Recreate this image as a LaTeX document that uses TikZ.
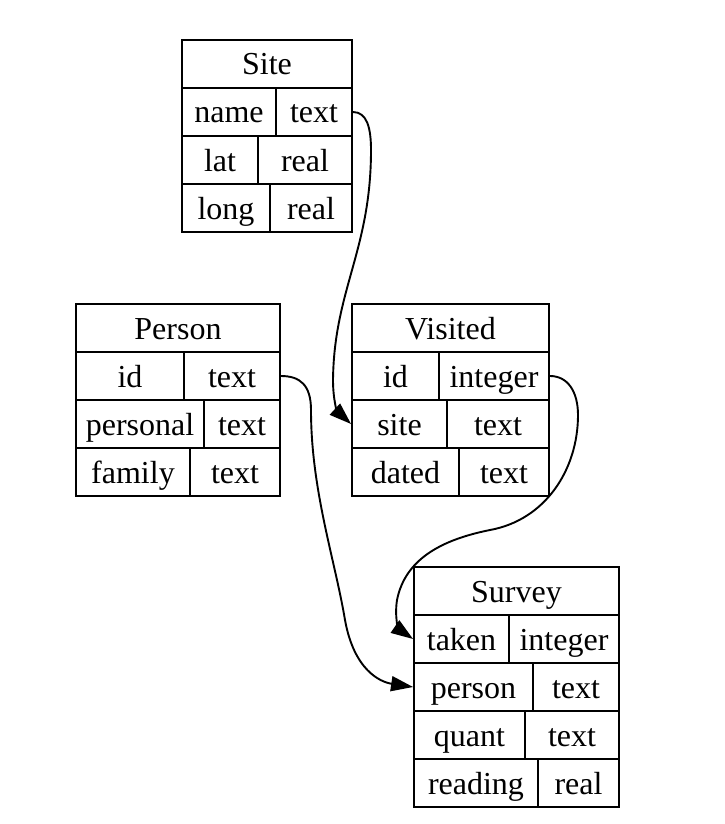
\documentclass[tikz,border=0pt]{standalone}
\usepackage{fontspec}
\setmainfont{Liberation Serif}
\usetikzlibrary{arrows.meta}

\begin{document}
\begin{tikzpicture}[x=0.5pt, y=-0.5pt,
		cell/.style={draw, line width=0.95pt, inner sep=0pt, minimum height=24pt, text height=14pt, text depth=3pt, font=\fontsize{16}{18}\selectfont},
		fk/.style={line width=0.95pt, -{Triangle[length=11pt, width=7.5pt]}}]
		
		\useasboundingbox (0,0) rectangle (724,824);
		
		\node[cell, minimum width=85pt] (site) at (267,64) {Site};
		\foreach \fld/\typ/\cut [count=\i] in {name/text/276, lat/real/258, long/real/270}
		{
			\node[cell, minimum width={(\cut-182)*0.5pt}] (site-\fld) at ({(182+\cut)/2},{64+48*\i}) {\fld};
			\node[cell, minimum width={(352-\cut)*0.5pt}] (site-\fld-type) at ({(\cut+352)/2},{64+48*\i}) {\typ};
		}
		
		\node[cell, minimum width=102pt] (person) at (178,328) {Person};
		\foreach \fld/\typ/\cut [count=\i] in {id/text/184, personal/text/204, family/text/190}
		{
			\node[cell, minimum width={(\cut-76)*0.5pt}] (person-\fld) at ({(76+\cut)/2},{328+48*\i}) {\fld};
			\node[cell, minimum width={(280-\cut)*0.5pt}] (person-\fld-type) at ({(\cut+280)/2},{328+48*\i}) {\typ};
		}
		
		\node[cell, minimum width=98.5pt] (visited) at (450.5,328) {Visited};
		\foreach \fld/\typ/\cut [count=\i] in {id/integer/439, site/text/447, dated/text/459}
		{
			\node[cell, minimum width={(\cut-352)*0.5pt}] (visited-\fld) at ({(352+\cut)/2},{328+48*\i}) {\fld};
			\node[cell, minimum width={(549-\cut)*0.5pt}] (visited-\fld-type) at ({(\cut+549)/2},{328+48*\i}) {\typ};
		}
		
		\node[cell, minimum width=102.5pt] (survey) at (516.5,591) {Survey};
		\foreach \fld/\typ/\cut [count=\i] in {taken/integer/509, person/text/533, quant/text/525, reading/real/538}
		{
			\node[cell, minimum width={(\cut-414)*0.5pt}] (survey-\fld) at ({(414+\cut)/2},{591+48*\i}) {\fld};
			\node[cell, minimum width={(619-\cut)*0.5pt}] (survey-\fld-type) at ({(\cut+619)/2},{591+48*\i}) {\typ};
		}
		
		\draw[fk] (site-name-type.east) .. controls (367,112) and (371,128) .. (371,150) .. controls (371,250) and (334,290) .. (333,380) .. controls (333,402) and (338,412) .. (visited-site.west);
		\draw[fk] (person-id-type.east) .. controls (300,376) and (311,385) .. (311,410) .. controls (311,490) and (335,560) .. (345,620) .. controls (354,670) and (380,682) .. (survey-person.west);
		\draw[fk] (visited-id-type.east) .. controls (568,376) and (578,392) .. (578,415) .. controls (578,470) and (545,520) .. (490,530) .. controls (440,540) and (405,560) .. (397,600) .. controls (394,620) and (400,630) .. (survey-taken.west);
		
	\end{tikzpicture}
\end{document}
